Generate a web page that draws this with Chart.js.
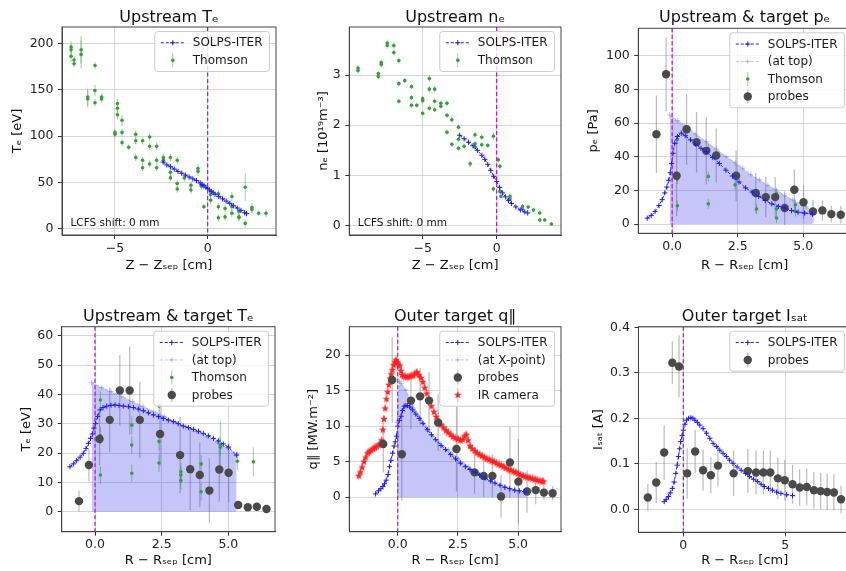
<!DOCTYPE html>
<html>
<head>
<meta charset="utf-8">
<title>SOLPS-ITER vs measurements</title>
<script src="https://cdn.jsdelivr.net/npm/chart.js@4.4.1/dist/chart.umd.min.js"></script>
<style>
  html, body { margin:0; padding:0; background:#ffffff; width:846px; height:571px; overflow:hidden; }
  canvas { position:absolute; }
</style>
</head>
<body>
<canvas id="c1"></canvas>
<canvas id="c2"></canvas>
<canvas id="c3"></canvas>
<canvas id="c4"></canvas>
<canvas id="c5"></canvas>
<canvas id="c6"></canvas>
<script>
// ================= DATA =================
// Panel 1: Upstream Te vs Z - Zsep [cm]
const teUpSolpsZ = [-2.4,-2.2,-2.0,-1.8,-1.6,-1.4,-1.2,-1.0,-0.8,-0.6,-0.4,-0.3,-0.2,-0.1,0.0,0.1,0.2,0.3,0.4,0.6,0.8,1.0,1.2,1.4,1.6,1.8,2.0,2.1];
const teUpSolps  = [72,69,67,64.5,62,60,58,56,54,52,49.5,48,46.5,45,43.5,42,40.5,39,37.5,35,32.5,30,27.5,25,22.5,20,17.5,16.5];
const teUpThomZ  = [-7.37,-7.37,-7.37,-7.21,-7.21,-6.83,-6.83,-6.47,-6.47,-6.08,-6.08,-6.08,-5.72,-5.72,-5.00,-5.00,-4.87,-4.87,-4.87,-4.62,-4.62,-4.62,-4.26,-3.88,-3.88,-3.88,-3.51,-3.51,-3.51,-3.13,-3.13,-3.13,-2.75,-2.75,-2.75,-2.39,-2.39,-2.01,-2.01,-2.01,-1.64,-1.64,-1.64,-1.26,-0.90,-0.90,-0.52,-0.52,-0.34,-0.20,0.16,0.16,0.58,0.58,0.58,0.94,0.94,1.31,1.31,1.31,1.69,1.69,1.69,2.03,2.03,2.39,2.39,2.75,3.15];
const teUpThom   = [196,193,186,182,178,193,188,142,140,176,149,136,142,140,104,102,135,130,123,117,104,93,88,102,95,77,95,74,66,99,89,70,89,74,66,77,74,77,61,55,74,49,43,55,47,42,65,62,46,24,37,31,38,24,12,22,13,35,24,17,19,13,12,45,6,23,21,17,17];
const teUpThomErr= [6,6,6,4,4,15,15,9,9,4,6,4,4,4,4,4,5,5,5,6,4,4,3,4,4,4,4,4,4,4,4,4,4,4,4,4,4,4,4,4,4,4,4,4,4,4,5,5,4,3,4,4,4,4,4,4,4,5,5,4,4,4,4,15,4,5,4,3,4];

// Panel 2: Upstream ne [1e19 m^-3]
const neUpSolpsZ = [-2.5,-2.2,-1.9,-1.6,-1.3,-1.0,-0.8,-0.6,-0.4,-0.2,0.0,0.2,0.4,0.6,0.8,1.0,1.3,1.6,1.9,2.1];
const neUpSolps  = [1.80,1.73,1.66,1.59,1.50,1.40,1.32,1.22,1.10,0.98,0.88,0.76,0.65,0.57,0.50,0.44,0.37,0.31,0.27,0.25];
const neUpThomZ  = [-9.37,-9.37,-8.0,-8.0,-7.8,-7.8,-7.4,-7.4,-6.95,-6.95,-6.61,-6.61,-6.61,-6.21,-5.76,-5.76,-5.76,-5.4,-5.0,-5.0,-5.0,-4.55,-4.55,-4.55,-4.19,-4.19,-4.19,-3.77,-3.77,-3.36,-3.36,-3.36,-3.03,-3.03,-2.58,-2.58,-2.58,-2.2,-1.79,-1.46,-1.46,-1.46,-1.01,-1.01,-0.6,-0.22,-0.22,0.11,0.22,0.22,0.29,0.9,0.9,1.75,1.75,2.13,2.49,2.91,2.91,3.25,3.7];
const neUpThom   = [3.14,3.09,3.03,2.97,3.25,3.21,3.64,3.59,3.59,3.45,3.29,2.83,2.48,2.89,2.77,2.55,2.4,2.4,2.53,2.49,2.24,2.93,2.72,2.34,2.72,2.48,2.31,2.44,2.38,2.44,2.2,1.86,2.11,1.62,1.96,1.72,1.54,1.58,1.23,1.81,1.63,1.56,1.76,1.61,1.6,1.78,0.73,1.31,1.18,0.68,0.58,0.58,0.53,0.38,0.33,0.37,0.31,0.25,0.11,0.11,0.03];
const neUpThomErr= [0.06,0.06,0.05,0.05,0.05,0.05,0.07,0.07,0.06,0.06,0.06,0.05,0.05,0.05,0.05,0.05,0.05,0.05,0.05,0.05,0.05,0.07,0.06,0.05,0.06,0.05,0.05,0.05,0.05,0.06,0.05,0.05,0.06,0.05,0.05,0.05,0.05,0.05,0.06,0.06,0.05,0.05,0.06,0.05,0.05,0.07,0.05,0.05,0.06,0.05,0.05,0.05,0.05,0.05,0.04,0.04,0.04,0.04,0.04,0.04,0.04];

// Target probe positions R - Rsep [cm]
const probeR = [-0.6,-0.23,0.17,0.55,0.93,1.3,1.68,2.44,3.19,3.57,3.93,4.29,4.66,5.01,5.37,5.73,6.07,6.43];

// Panel 3: pe [Pa]
const peSolpsR = [-0.95,-0.8,-0.65,-0.5,-0.38,-0.28,-0.2,-0.13,-0.07,-0.02,0.03,0.1,0.2,0.35,0.5,0.7,0.9,1.1,1.3,1.55,1.8,2.05,2.3,2.55,2.8,3.05,3.3,3.55,3.8,4.05,4.3,4.55,4.8,5.05,5.35];
const peSolps  = [3.5,5,7.5,11,14.5,18.5,22,26,30.5,36,42,48,52,54,52.5,50,47.5,45,43,39.5,36,32,28.5,25,21.5,19,16.5,14,12,10.5,9.5,8,7,6.5,5.8];
const peTopR   = [-0.09,0.2,0.54,0.9,1.3,1.7,2.06,2.4,2.69,3.0,3.33,3.65,3.96,4.3,4.59,5.1,5.35];
const peTop    = [64.8,61.5,58.3,53.5,49,44.5,40.1,36.5,33.2,29.5,26.3,23,20.4,17,14.4,10.5,7.5];
const peThomR  = [0.2,0.2,0.2,0.2,1.38,1.38,1.38,2.4,3.22,3.98,3.98,3.98,4.7,4.7];
const peThom   = [28.3,26.7,50.4,10.9,44.5,28.3,12,23.3,8.9,18,8.9,3.6,11.5,7.5];
const peThomErr= [3,3,3,3,3,3,3,3,3,3,3,3,3,3];
const peProbe  = [53.4,89,28.7,56.3,48.6,43.5,40.7,28.7,18.4,16,16,9.5,20.4,13,7.5,8.1,5.9,5.5];
const peProbeErr=[23,22,24,21,18,20,16,15,12,12,12,10,12,10,7,6,5,5];

// Panel 4: target Te [eV]
const teTgtSolpsR = [-0.94,-0.81,-0.69,-0.56,-0.44,-0.34,-0.25,-0.17,-0.1,-0.04,0.02,0.1,0.19,0.3,0.44,0.6,0.75,0.9,1.06,1.25,1.44,1.62,1.81,2.0,2.19,2.38,2.56,2.75,2.94,3.12,3.31,3.5,3.69,3.88,4.06,4.25,4.44,4.62,4.81,5.0,5.31];
const teTgtSolps  = [15.3,16.3,17.4,18.6,19.9,21.5,23.3,25,26.5,28.5,30,32.5,34.7,35.5,36,36.3,36.4,36.2,36,35.8,35.5,35,34.4,33.7,33,32.4,31.8,31.2,30.7,30,29.2,28.7,28.1,27.4,26.7,25.9,25,24.1,23.1,22,19.3];
const teTgtTopR   = [-0.13,0.25,0.6,1.0,1.4,1.8,2.2,2.6,3.0,3.4,3.8,4.2,4.6,5.0,5.31];
const teTgtTop    = [44,42.3,41,39.3,37.6,35.9,34.2,32.5,30.7,29,27.3,25.5,23.5,21.5,19.5];
const teThomR     = [0.2,0.2,0.2,1.38,1.38,1.38,2.4,2.4,2.4,3.22,3.22,3.22,3.98,3.98,4.7,4.7,5.34,5.94];
const teThom      = [38.1,26,12.5,29.5,22.7,13.1,36,23.9,16.6,13.6,12.5,10.6,16.3,6.8,22.7,22,17.2,17];
const teThomErr   = [3,3,3,3,3,3,3,3,3,3,3,3,3,3,8,3,3,5];
const teProbe     = [3.6,15.9,24.8,31.3,41.3,41.3,31.3,26.5,19.3,14.5,12.5,7.2,14.4,13.3,2.3,1.5,1.7,0.9];
const teProbeErr  = [3.5,5.5,9,11,12,15,13,11,13,14,11,11,11,10,1,1,1,0.8];

// Panel 5: outer target q_parallel [MW m^-2]
const qSolpsR = [-0.92,-0.8,-0.7,-0.62,-0.55,-0.48,-0.4,-0.34,-0.28,-0.21,-0.15,-0.1,-0.05,0.0,0.07,0.14,0.2,0.27,0.34,0.41,0.5,0.62,0.75,0.89,1.05,1.23,1.4,1.58,1.8,1.99,2.2,2.4,2.6,2.81,3.0,3.22,3.4,3.63,3.85,4.04,4.25,4.45,4.65,4.86,5.05,5.27];
const qSolps  = [0.47,0.9,1.2,1.5,1.9,2.4,3.2,4.3,5.2,6.2,7.2,7.8,8.6,10,10.8,11.4,12.2,12.8,12.9,12.9,12.7,12.3,11.7,11.1,10.4,9.5,8.8,8.1,7.3,6.7,6.0,5.4,4.8,4.3,3.9,3.5,3.1,2.7,2.3,2.0,1.7,1.4,1.2,1.0,0.9,0.8];
const qXptR   = [-0.03,0.07,0.14,0.34,0.62,0.96,1.3,1.71,2.12,2.53,2.95,3.36,3.9,4.45,5.0,5.34];
const qXpt    = [10.5,16.3,16.0,15.1,13,11.1,9.5,7.8,6.7,5.5,4.3,3.4,2.2,1.5,0.8,0.5];
const qProbe  = [7.5,16.5,6.05,13.6,14.2,13.6,10.5,6.8,3.5,3.0,3.0,0.1,4.9,2.2,0.8,1.0,0.65,0.56];
const qProbeErr=[4,6,6.5,4,4,4,4,6,3,3,3,3,5,6,3,2,1,1];
const irR = [-1.62,-1.55,-1.48,-1.4,-1.33,-1.25,-1.18,-1.1,-1.02,-0.95,-0.88,-0.8,-0.73,-0.67,-0.62,-0.57,-0.52,-0.47,-0.42,-0.37,-0.32,-0.27,-0.22,-0.17,-0.12,-0.07,-0.02,0.03,0.08,0.13,0.18,0.25,0.32,0.4,0.48,0.56,0.64,0.72,0.8,0.88,0.96,1.04,1.12,1.2,1.3,1.4,1.5,1.6,1.7,1.8,1.9,2.0,2.1,2.2,2.3,2.4,2.5,2.6,2.7,2.78,2.85,2.92,3.0,3.1,3.2,3.3,3.4,3.5,3.6,3.7,3.8,3.9,4.0,4.1,4.2,4.3,4.4,4.5,4.6,4.7,4.8,4.9,5.0,5.1,5.2,5.3,5.4,5.5,5.6,5.7,5.8,5.9,6.0,6.05];
const irQ = [3.0,3.5,4.2,5.0,5.6,6.2,6.4,6.6,6.8,7.0,7.1,7.3,7.5,8.0,9.5,11.0,12.5,13.8,14.8,15.8,16.7,17.3,17.9,18.6,19.0,19.3,19.0,18.7,18.5,17.8,17.2,17.0,17.0,16.9,17.0,17.1,17.1,17.4,17.6,17.2,16.8,16.2,15.4,14.6,13.8,12.8,12.0,11.3,10.7,10.2,9.8,9.4,9.1,8.8,8.5,8.3,8.2,8.0,8.1,8.6,8.8,8.0,7.2,6.8,6.5,6.2,6.0,5.8,5.6,5.4,5.3,5.1,5.0,4.8,4.6,4.5,4.3,4.1,3.9,3.8,3.6,3.5,3.3,3.1,3.0,2.9,2.8,2.7,2.6,2.5,2.4,2.3,2.25,2.2];
const irErr = 0.6;

// Panel 6: outer target Isat [A]
const isatSolpsR = [-0.94,-0.84,-0.73,-0.64,-0.54,-0.45,-0.37,-0.3,-0.24,-0.18,-0.13,-0.06,0.0,0.08,0.16,0.26,0.37,0.47,0.57,0.69,0.81,0.97,1.14,1.3,1.46,1.62,1.79,1.95,2.11,2.27,2.44,2.64,2.84,3.05,3.25,3.45,3.65,3.82,3.98,4.18,4.38,4.58,4.79,5.07,5.36];
const isatSolps  = [0.017,0.022,0.028,0.036,0.046,0.06,0.079,0.097,0.116,0.133,0.149,0.162,0.174,0.187,0.196,0.2,0.201,0.2,0.196,0.191,0.185,0.177,0.167,0.156,0.145,0.138,0.13,0.123,0.116,0.108,0.101,0.093,0.086,0.079,0.072,0.066,0.061,0.055,0.05,0.046,0.042,0.038,0.035,0.032,0.03];
const isatProbeR = [-1.74,-1.33,-0.94,-0.54,-0.21,0.19,0.58,0.97,1.35,1.7,2.47,3.17,3.57,3.93,4.27,4.64,4.98,5.36,5.71,6.06,6.41,6.74,7.06,7.39,7.74];
const isatProbe  = [0.026,0.059,0.125,0.322,0.314,0.079,0.127,0.086,0.075,0.096,0.079,0.084,0.081,0.081,0.081,0.068,0.064,0.055,0.048,0.049,0.042,0.04,0.038,0.037,0.022];
const isatProbeErr=[0.03,0.045,0.06,0.047,0.068,0.055,0.048,0.045,0.04,0.046,0.05,0.048,0.048,0.048,0.048,0.046,0.045,0.043,0.04,0.04,0.04,0.04,0.04,0.04,0.03];

// ================= STYLE / HELPERS =================
const FONT = "'DejaVu Sans', 'Noto Sans', sans-serif";
Chart.defaults.font.family = FONT;
Chart.defaults.color = '#222';

const BLUE = '#1a1aff';
const pts = (xs, ys) => xs.map((x, i) => ({x: x, y: ys[i]}));

function starImage(color, r) {
  const s = Math.ceil(2 * r + 2);
  const c = document.createElement('canvas');
  c.width = s; c.height = s;
  const g = c.getContext('2d');
  g.fillStyle = color;
  g.beginPath();
  for (let k = 0; k < 10; k++) {
    const a = -Math.PI / 2 + k * Math.PI / 5;
    const rr = (k % 2 === 0) ? r : r * 0.42;
    g.lineTo(s / 2 + rr * Math.cos(a), s / 2 + rr * Math.sin(a));
  }
  g.closePath(); g.fill();
  return c;
}
const STAR = starImage('#ff2222', 4);

function solps(label, xs, ys) {
  return {label, kind:'solps', data: pts(xs, ys), showLine:true, borderColor:BLUE, borderWidth:1,
    borderDash:[3,2], pointStyle:'cross', pointRadius:2.6, pointBorderColor:BLUE, pointBorderWidth:1,
    pointBackgroundColor:BLUE, fill:false, order:1};
}
function solpsTop(label, xs, ys) {
  return {label, kind:'top', data: pts(xs, ys), showLine:true, borderColor:'rgba(120,120,255,0.45)', borderWidth:1,
    borderDash:[3,2], pointStyle:'cross', pointRadius:2.6, pointBorderColor:'rgba(120,120,255,0.45)', pointBorderWidth:1,
    fill:'origin', backgroundColor:'rgba(55,55,235,0.29)', order:6};
}
function thomson(label, xs, ys, errs) {
  return {label, kind:'thomson', data: pts(xs, ys), showLine:false, pointStyle:'circle', pointRadius:1.8,
    pointBackgroundColor:'#35a035', pointBorderColor:'#35a035', pointBorderWidth:0,
    errors:errs, errColor:'rgba(70,175,70,0.55)', errWidth:1, order:3};
}
function probes(label, xs, ys, errs) {
  return {label, kind:'probes', data: pts(xs, ys), showLine:false, pointStyle:'circle', pointRadius:4.2,
    pointBackgroundColor:'#4a4a4a', pointBorderColor:'#4a4a4a', pointBorderWidth:0,
    errors:errs, errColor:'rgba(120,120,120,0.5)', errWidth:1.2, order:2};
}
function irCam(label, xs, ys, errs) {
  return {label, kind:'ir', data: pts(xs, ys), showLine:false, pointStyle:STAR, pointRadius:4,
    errors:errs, errColor:'rgba(255,120,120,0.55)', errWidth:1.2, order:4};
}

const fmtTick = dec => v => (Math.abs(v) < 1e-9 ? 0 : v).toFixed(dec).replace('-', '\u2212');

const errPlugin = {
  id:'errbars',
  beforeDatasetsDraw(chart) {
    const ctx = chart.ctx, xs = chart.scales.x, ys = chart.scales.y, ca = chart.chartArea;
    ctx.save();
    ctx.beginPath(); ctx.rect(ca.left, ca.top, ca.right - ca.left, ca.bottom - ca.top); ctx.clip();
    chart.data.datasets.forEach(d => {
      if (d.errors === undefined) return;
      ctx.strokeStyle = d.errColor; ctx.lineWidth = d.errWidth || 1;
      ctx.beginPath();
      d.data.forEach((p, i) => {
        const e = Array.isArray(d.errors) ? d.errors[i] : d.errors;
        const x = xs.getPixelForValue(p.x);
        ctx.moveTo(x, ys.getPixelForValue(p.y - e));
        ctx.lineTo(x, ys.getPixelForValue(p.y + e));
      });
      ctx.stroke();
    });
    ctx.restore();
  }
};

function makeDeco(p) {
  return {
    id:'deco',
    afterDatasetsDraw(chart) {
      const ctx = chart.ctx, ca = chart.chartArea;
      ctx.save();
      if (p.vline !== undefined) {
        const x = chart.scales.x.getPixelForValue(p.vline);
        ctx.strokeStyle = '#c21bc2'; ctx.lineWidth = 1.3; ctx.setLineDash([4, 2.5]);
        ctx.beginPath(); ctx.moveTo(x, ca.top); ctx.lineTo(x, ca.bottom); ctx.stroke();
        ctx.setLineDash([]);
      }
      ctx.strokeStyle = '#444'; ctx.lineWidth = 1;
      ctx.strokeRect(ca.left, ca.top, ca.right - ca.left, ca.bottom - ca.top);
      if (p.note) {
        ctx.fillStyle = '#111'; ctx.font = '10.5px ' + FONT;
        ctx.textBaseline = 'middle'; ctx.textAlign = 'left';
        ctx.fillText(p.note, ca.left + 8.5, ca.bottom - 12);
      }
      ctx.restore();
    }
  };
}

function drawHandle(ctx, d, x1, x2, cy) {
  const mx = (x1 + x2) / 2;
  ctx.save();
  if (d.kind === 'solps' || d.kind === 'top') {
    ctx.strokeStyle = d.borderColor; ctx.lineWidth = 1; ctx.setLineDash([3, 2]);
    ctx.beginPath(); ctx.moveTo(x1, cy); ctx.lineTo(x2, cy); ctx.stroke();
    ctx.setLineDash([]);
    ctx.strokeStyle = d.pointBorderColor;
    ctx.beginPath();
    ctx.moveTo(mx - 2.6, cy); ctx.lineTo(mx + 2.6, cy);
    ctx.moveTo(mx, cy - 2.6); ctx.lineTo(mx, cy + 2.6);
    ctx.stroke();
  } else {
    ctx.strokeStyle = d.errColor; ctx.lineWidth = d.errWidth || 1;
    ctx.beginPath(); ctx.moveTo(mx, cy - 7); ctx.lineTo(mx, cy + 7); ctx.stroke();
    if (d.kind === 'ir') {
      ctx.drawImage(STAR, mx - STAR.width / 2, cy - STAR.height / 2);
    } else {
      ctx.fillStyle = d.pointBackgroundColor;
      ctx.beginPath(); ctx.arc(mx, cy, d.pointRadius, 0, Math.PI * 2); ctx.fill();
    }
  }
  ctx.restore();
}

function makeLegend(p) {
  return {
    id:'mlegend',
    afterDraw(chart) {
      const ctx = chart.ctx, ca = chart.chartArea;
      const ds = chart.data.datasets.filter(d => d.label);
      ctx.save();
      ctx.font = '12px ' + FONT;
      const tw = Math.max(...ds.map(d => ctx.measureText(d.label).width));
      const rowH = 17.5;
      const w = 38 + tw + 7, h = ds.length * rowH + 5;
      const x0 = ca.right - 6.5 - w, y0 = ca.top + 4.5;
      ctx.fillStyle = 'rgba(255,255,255,0.8)';
      ctx.strokeStyle = '#cccccc'; ctx.lineWidth = 1;
      ctx.beginPath();
      if (ctx.roundRect) ctx.roundRect(x0, y0, w, h, 3); else ctx.rect(x0, y0, w, h);
      ctx.fill(); ctx.stroke();
      ds.forEach((d, i) => {
        const cy = y0 + 2.5 + rowH * (i + 0.5);
        drawHandle(ctx, d, x0 + 6, x0 + 30, cy);
        ctx.fillStyle = '#1a1a1a'; ctx.textBaseline = 'middle'; ctx.textAlign = 'left';
        ctx.fillText(d.label, x0 + 38, cy + 0.5);
      });
      ctx.restore();
    }
  };
}

function axis(min, max, step, dec, title, titlePad, isX, fitSize) {
  return {
    type:'linear', min, max,
    afterFit: s => { if (isX) s.height = fitSize; else s.width = fitSize; },
    ticks:{stepSize:step, includeBounds:false, autoSkip:false, maxRotation:0, padding: isX ? 2 : 4.5,
      color:'#222', font:{size:12.5}, callback: fmtTick(dec)},
    grid:{color:'#d6d6d6', lineWidth:1, tickColor:'#333', tickLength:4},
    border:{color:'#444', width:1},
    title:{display:true, text:title, color:'#111', font:{size:13, lineHeight:1.2},
      padding: isX ? {top:0, bottom:titlePad} : {top:titlePad, bottom:0}}
  };
}

function buildChart(p) {
  const cv = document.getElementById(p.id);
  cv.width = p.w; cv.height = p.h;
  cv.style.left = p.left + 'px'; cv.style.top = p.top + 'px';
  cv.style.width = p.w + 'px'; cv.style.height = p.h + 'px';
  return new Chart(cv, {
    type:'line',
    data:{datasets:p.datasets},
    options:{
      responsive:false, animation:false, devicePixelRatio:1, events:[],
      layout:{padding:{left:0, right:p.padR, top:0, bottom:0}},
      plugins:{
        legend:{display:false}, tooltip:{enabled:false},
        title:{display:true, text:p.title, fullSize:false, color:'#111',
          font:{size:16, weight:'normal', lineHeight:1}, padding:{top:p.tTop, bottom:p.tBot}}
      },
      scales:{
        x: axis(p.xmin, p.xmax, p.xstep, p.xdec, p.xtitle, p.xtOff, true, p.xH),
        y: axis(p.ymin, p.ymax, p.ystep, p.ydec, p.ytitle, p.ytOff, false, p.yW)
      }
    },
    plugins:[errPlugin, makeDeco(p), makeLegend(p)]
  });
}

// ================= PANELS =================
buildChart({id:'c1', left:0, top:0, w:283, h:285, yW:62, xH:50, padR:7, tTop:10.3, tBot:0.7, ytOff:9.5, xtOff:12,
  title:'Upstream T\u2091', xtitle:'Z \u2212 Z\u209B\u2091\u209A [cm]', ytitle:'T\u2091 [eV]',
  xmin:-7.86, xmax:3.69, xstep:5, xdec:0, ymin:-6.5, ymax:217.5, ystep:50, ydec:0,
  vline:0, note:'LCFS shift: 0 mm',
  datasets:[ solps('SOLPS-ITER', teUpSolpsZ, teUpSolps), thomson('Thomson', teUpThomZ, teUpThom, teUpThomErr) ]});

buildChart({id:'c2', left:283, top:0, w:283, h:285, yW:66.3, xH:50, padR:2.7, tTop:10.3, tBot:0.7, ytOff:32.5, xtOff:12,
  title:'Upstream n\u2091', xtitle:'Z \u2212 Z\u209B\u2091\u209A [cm]', ytitle:'n\u2091 [10\u00B9\u2079m\u207B\u00B3]',
  xmin:-9.96, xmax:4.35, xstep:5, xdec:0, ymin:-0.19, ymax:3.96, ystep:1, ydec:0,
  vline:0, note:'LCFS shift: 0 mm',
  datasets:[ solps('SOLPS-ITER', neUpSolpsZ, neUpSolps), thomson('Thomson', neUpThomZ, neUpThom, neUpThomErr) ]});

buildChart({id:'c3', left:566, top:0, w:290, h:285, yW:72.3, xH:51.7, padR:4, tTop:10.3, tBot:2.0, ytOff:19.5, xtOff:12,
  title:'Upstream & target p\u2091', xtitle:'R \u2212 R\u209B\u2091\u209A [cm]', ytitle:'p\u2091 [Pa]',
  xmin:-1.29, xmax:6.82, xstep:2.5, xdec:1, ymin:-5.5, ymax:116.3, ystep:20, ydec:0,
  vline:0,
  datasets:[ solps('SOLPS-ITER', peSolpsR, peSolps), solpsTop('(at top)', peTopR, peTop),
             thomson('Thomson', peThomR, peThom, peThomErr), probes('probes', probeR, peProbe, peProbeErr) ]});

buildChart({id:'c4', left:0, top:285, w:283, h:286, yW:61.7, xH:39.3, padR:8, tTop:23.7, tBot:2.0, ytOff:18.9, xtOff:3,
  title:'Upstream & target T\u2091', xtitle:'R \u2212 R\u209B\u2091\u209A [cm]', ytitle:'T\u2091 [eV]',
  xmin:-1.25, xmax:6.75, xstep:2.5, xdec:1, ymin:-6.82, ymax:63.07, ystep:10, ydec:0,
  vline:0,
  datasets:[ solps('SOLPS-ITER', teTgtSolpsR, teTgtSolps), solpsTop('(at top)', teTgtTopR, teTgtTop),
             thomson('Thomson', teThomR, teThom, teThomErr), probes('probes', probeR, teProbe, teProbeErr) ]});

buildChart({id:'c5', left:283, top:285, w:283, h:286, yW:66.3, xH:39.3, padR:2.7, tTop:23.7, tBot:2.0, ytOff:22.5, xtOff:3,
  title:'Outer target q\u2225', xtitle:'R \u2212 R\u209B\u2091\u209A [cm]', ytitle:'q\u2225 [MW.m\u207B\u00B2]',
  xmin:-2.01, xmax:6.78, xstep:2.5, xdec:1, ymin:-4.85, ymax:24.0, ystep:5, ydec:0,
  vline:0,
  datasets:[ solps('SOLPS-ITER', qSolpsR, qSolps), solpsTop('(at X-point)', qXptR, qXpt),
             probes('probes', probeR, qProbe, qProbeErr), irCam('IR camera', irR, irQ, irErr) ]});

buildChart({id:'c6', left:566, top:285, w:290, h:286, yW:72.5, xH:38.7, padR:4, tTop:23.7, tBot:2.0, ytOff:24.5, xtOff:3,
  title:'Outer target I\u209B\u2090\u209C', xtitle:'R \u2212 R\u209B\u2091\u209A [cm]', ytitle:'I\u209B\u2090\u209C [A]',
  xmin:-2.2, xmax:8.23, xstep:5, xdec:0, ymin:-0.0505, ymax:0.4013, ystep:0.1, ydec:1,
  vline:0,
  datasets:[ solps('SOLPS-ITER', isatSolpsR, isatSolps), probes('probes', isatProbeR, isatProbe, isatProbeErr) ]});
</script>
</body>
</html>
